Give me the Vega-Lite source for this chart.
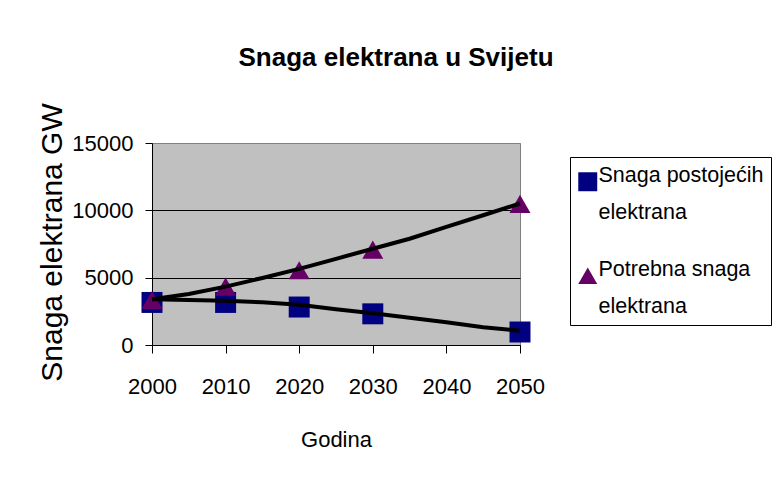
{
  "$schema": "https://vega.github.io/schema/vega-lite/v6.json",
  "width": 368,
  "height": 202,
  "autosize": {"type": "none"},
  "padding": {"left": 152, "top": 143, "right": 256, "bottom": 146},
  "background": "white",
  "title": {
    "text": "Snaga elektrana u Svijetu",
    "font": "Liberation Sans",
    "fontSize": 26,
    "fontWeight": "bold",
    "color": "black",
    "anchor": "middle",
    "frame": "group",
    "baseline": "alphabetic",
    "dx": 60,
    "offset": 11
  },
  "datasets": {
    "points": [
      {"year": 2000, "value": 3160, "series": "Snaga postojećih elektrana"},
      {"year": 2010, "value": 3160, "series": "Snaga postojećih elektrana"},
      {"year": 2020, "value": 2820, "series": "Snaga postojećih elektrana"},
      {"year": 2030, "value": 2315, "series": "Snaga postojećih elektrana"},
      {"year": 2050, "value": 965, "series": "Snaga postojećih elektrana"},
      {"year": 2000, "value": 3340, "series": "Potrebna snaga elektrana"},
      {"year": 2010, "value": 4330, "series": "Potrebna snaga elektrana"},
      {"year": 2020, "value": 5550, "series": "Potrebna snaga elektrana"},
      {"year": 2030, "value": 7080, "series": "Potrebna snaga elektrana"},
      {"year": 2050, "value": 10475, "series": "Potrebna snaga elektrana"}
    ],
    "trend": [
      {"year": 2000, "value": 3390, "series": "lower"},
      {"year": 2005, "value": 3343, "series": "lower"},
      {"year": 2010, "value": 3290, "series": "lower"},
      {"year": 2015, "value": 3170, "series": "lower"},
      {"year": 2020, "value": 2995, "series": "lower"},
      {"year": 2025, "value": 2650, "series": "lower"},
      {"year": 2030, "value": 2355, "series": "lower"},
      {"year": 2035, "value": 2030, "series": "lower"},
      {"year": 2040, "value": 1684, "series": "lower"},
      {"year": 2045, "value": 1313, "series": "lower"},
      {"year": 2050, "value": 1065, "series": "lower"},
      {"year": 2000, "value": 3390, "series": "upper"},
      {"year": 2005, "value": 3785, "series": "upper"},
      {"year": 2010, "value": 4333, "series": "upper"},
      {"year": 2015, "value": 4980, "series": "upper"},
      {"year": 2020, "value": 5652, "series": "upper"},
      {"year": 2025, "value": 6400, "series": "upper"},
      {"year": 2030, "value": 7146, "series": "upper"},
      {"year": 2035, "value": 7893, "series": "upper"},
      {"year": 2040, "value": 8765, "series": "upper"},
      {"year": 2045, "value": 9636, "series": "upper"},
      {"year": 2050, "value": 10508, "series": "upper"}
    ]
  },
  "layer": [
    {
      "data": {"name": "points"},
      "mark": {"type": "point", "filled": true, "opacity": 1, "size": 440, "strokeWidth": 0},
      "encoding": {
        "x": {
          "field": "year", "type": "quantitative",
          "scale": {"domain": [2000, 2050], "nice": false, "zero": false},
          "axis": {
            "values": [2000, 2010, 2020, 2030, 2040, 2050],
            "format": "d",
            "title": "Godina",
            "grid": false,
            "domainColor": "black",
            "tickColor": "black",
            "tickSize": 8,
            "labelFont": "Liberation Sans",
            "labelFontSize": 22,
            "labelColor": "black",
            "labelBaseline": "middle",
            "labelPadding": 33,
            "labelFlush": false,
            "titleFont": "Liberation Sans",
            "titleFontSize": 22,
            "titleFontWeight": "normal",
            "titleColor": "black",
            "titleBaseline": "middle",
            "titleY": 94
          }
        },
        "y": {
          "field": "value", "type": "quantitative",
          "scale": {"domain": [0, 15000], "nice": false},
          "axis": {
            "values": [0, 5000, 10000, 15000],
            "format": "d",
            "title": "Snaga elektrana GW",
            "grid": true,
            "gridColor": {"condition": {"test": "datum.value == 15000", "value": "#808080"}, "value": "black"},
            "gridWidth": 1,
            "domainColor": "black",
            "tickColor": "black",
            "tickSize": 7,
            "labelFont": "Liberation Sans",
            "labelFontSize": 22,
            "labelColor": "black",
            "labelPadding": 12,
            "labelFlush": false,
            "titleFont": "Liberation Sans",
            "titleFontSize": 30,
            "titleFontWeight": "normal",
            "titleColor": "black",
            "titleAngle": -90,
            "titleAlign": "center",
            "titleBaseline": "middle",
            "titleX": -100,
            "titleY": 99
          }
        },
        "color": {
          "field": "series", "type": "nominal",
          "scale": {"domain": ["Snaga postojećih elektrana", "Potrebna snaga elektrana"], "range": ["#000080", "#660066"]},
          "legend": {
            "title": " ",
            "titleFontSize": 2,
            "titlePadding": 5,
            "orient": "none",
            "legendX": 418,
            "legendY": 14,
            "strokeColor": "black",
            "fillColor": "white",
            "padding": 7,
            "labelFont": "Liberation Sans",
            "labelFontSize": 21.5,
            "labelColor": "black",
            "labelBaseline": "alphabetic",
            "labelOffset": 0,
            "labelLimit": 300,
            "symbolSize": 360,
            "symbolStrokeWidth": 0,
            "rowPadding": 34,
            "labelExpr": "datum.label == 'Snaga postojećih elektrana' ? ['Snaga postojećih', 'elektrana'] : ['Potrebna snaga', 'elektrana']"
          }
        },
        "shape": {
          "field": "series", "type": "nominal",
          "scale": {"domain": ["Snaga postojećih elektrana", "Potrebna snaga elektrana"], "range": ["square", "triangle-up"]}
        }
      }
    },
    {
      "data": {"name": "trend"},
      "mark": {"type": "line", "color": "black", "strokeWidth": 4},
      "encoding": {
        "x": {"field": "year", "type": "quantitative"},
        "y": {"field": "value", "type": "quantitative"},
        "detail": {"field": "series", "type": "nominal"}
      }
    }
  ],
  "config": {
    "view": {"fill": "#C0C0C0", "stroke": "#808080", "strokeWidth": 1},
    "style": {"guide-label": {"lineHeight": 37}}
  }
}
